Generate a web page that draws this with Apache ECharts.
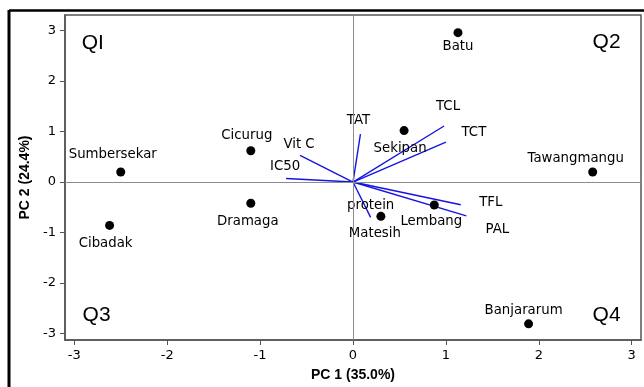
<!DOCTYPE html>
<html>
<head>
<meta charset="utf-8">
<script src="https://cdn.jsdelivr.net/npm/echarts@6/dist/echarts.min.js"></script>
<style>
  html, body { margin: 0; padding: 0; background: #fff; }
  #chart { width: 644px; height: 387px; }
</style>
</head>
<body>
<div id="chart"></div>
<script>
// PCA biplot: site scores (PC1, PC2) and variable loading vectors

// Site scores
const siteNames = ['Batu', 'Sekipan', 'Tawangmangu', 'Cicurug', 'Sumbersekar',
                   'Cibadak', 'Dramaga', 'Matesih', 'Lembang', 'Banjararum'];
const sitePC1 = [1.13, 0.55, 2.58, -1.10, -2.50, -2.62, -1.10, 0.30, 0.875, 1.89];
const sitePC2 = [2.96, 1.02, 0.20, 0.62, 0.20, -0.86, -0.42, -0.68, -0.455, -2.81];

// Variable loadings (vector end points)
const varNames = ['TAT', 'Vit C', 'IC50', 'TCL', 'TCT', 'TFL', 'PAL', 'protein'];
const varPC1 = [0.08, -0.57, -0.72, 0.98, 1.00, 1.16, 1.22, 0.19];
const varPC2 = [0.95, 0.53, 0.07, 1.11, 0.79, -0.45, -0.67, -0.70];

// Axis ticks
const xTicks = [-3, -2, -1, 0, 1, 2, 3];
const yTicks = [-3, -2, -1, 0, 1, 2, 3];

// Quadrant captions
const quadNames = ['QI', 'Q2', 'Q3', 'Q4'];
const quadPC1 = [-2.80, 2.73, -2.76, 2.73];
const quadPC2 = [2.75, 2.77, -2.64, -2.64];

// Label placement (pixel offsets from the mark)
const siteLabelOffsets = [[0, 14], [-4, 18], [-17, -13], [-4, -15], [-8, -17],
                          [-4, 18], [-3, 18], [-6, 17], [-3, 17], [-5, -13]];
const varLabelOffsets = [[-2, -14], [-1, -11], [-1, -12], [4, -19], [28, -10],
                         [30, -2], [31, 14], [0, -12]];

const TEXT_FONT = '"DejaVu Sans", Verdana, sans-serif';
const TITLE_FONT = '"Liberation Sans", Arial, sans-serif';

const chart = echarts.init(document.getElementById('chart'), null, { renderer: 'canvas' });

const vectorSeries = varNames.map((name, i) => ({
  type: 'line',
  name: name,
  data: [[0, 0], [varPC1[i], varPC2[i]]],
  symbol: 'none',
  silent: true,
  z: 3,
  lineStyle: { color: '#1414e6', width: 1.4 }
}));

const textLabel = {
  show: true, position: 'inside', formatter: '{b}',
  fontFamily: TEXT_FONT, fontSize: 13.3, color: '#000', opacity: 1,
  align: 'center', verticalAlign: 'middle'
};

const option = {
  animation: false,
  backgroundColor: '#ffffff',
  grid: {
    left: 65, right: 3, top: 15, bottom: 43.5,
    show: true, borderColor: '#555', borderWidth: 1.5
  },
  xAxis: {
    type: 'value',
    min: -3.1, max: 3.1,
    name: 'PC 1 (35.0%)',
    nameLocation: 'middle',
    nameGap: 28,
    nameTextStyle: { fontFamily: TITLE_FONT, fontWeight: 'bold', fontSize: 14, color: '#000' },
    axisLine: { show: true, onZero: false, lineStyle: { color: '#555', width: 1.5 } },
    axisTick: { show: true, length: 5, customValues: xTicks, lineStyle: { color: '#555', width: 1 } },
    axisLabel: { customValues: xTicks, margin: 9, fontFamily: TEXT_FONT, fontSize: 13, color: '#000' },
    splitLine: { show: false }
  },
  yAxis: {
    type: 'value',
    min: -3.13, max: 3.31,
    name: 'PC 2 (24.4%)',
    nameLocation: 'middle',
    nameGap: 33,
    nameRotate: 90,
    nameTextStyle: { fontFamily: TITLE_FONT, fontWeight: 'bold', fontSize: 14, color: '#000' },
    axisLine: { show: true, onZero: false, lineStyle: { color: '#555', width: 1.5 } },
    axisTick: { show: true, length: 5, customValues: yTicks, lineStyle: { color: '#555', width: 1 } },
    axisLabel: { customValues: yTicks, margin: 9, fontFamily: TEXT_FONT, fontSize: 13, color: '#000' },
    splitLine: { show: false }
  },
  graphic: [
    // outer frame: top and left rules
    { type: 'line', shape: { x1: 9, y1: 10.5, x2: 644, y2: 10.5 }, style: { stroke: '#000', lineWidth: 2.5 }, silent: true },
    { type: 'line', shape: { x1: 9, y1: 10, x2: 9, y2: 387 }, style: { stroke: '#000', lineWidth: 3 }, silent: true }
  ],
  series: [
    {
      // reference lines through the origin
      type: 'scatter',
      data: [],
      silent: true,
      z: 1,
      markLine: {
        silent: true,
        symbol: 'none',
        label: { show: false },
        lineStyle: { color: '#8c8c8c', width: 1, type: 'solid' },
        data: [{ xAxis: 0 }, { yAxis: 0 }]
      }
    },
    ...vectorSeries,
    {
      // loading vector captions
      type: 'scatter',
      symbolSize: 0,
      silent: true,
      z: 4,
      itemStyle: { opacity: 1 },
      data: varNames.map((name, i) => ({
        value: [varPC1[i], varPC2[i]],
        name: name,
        label: { offset: varLabelOffsets[i] }
      })),
      label: textLabel
    },
    {
      // site scores
      type: 'scatter',
      symbol: 'circle',
      symbolSize: 9,
      silent: true,
      z: 5,
      itemStyle: { color: '#000', opacity: 1 },
      data: siteNames.map((name, i) => ({
        value: [sitePC1[i], sitePC2[i]],
        name: name,
        label: { offset: siteLabelOffsets[i] }
      })),
      label: textLabel
    },
    {
      // quadrant captions
      type: 'scatter',
      symbolSize: 0,
      silent: true,
      z: 4,
      itemStyle: { opacity: 1 },
      data: quadNames.map((name, i) => ({ value: [quadPC1[i], quadPC2[i]], name: name })),
      label: {
        show: true, position: 'inside', formatter: '{b}',
        fontFamily: TITLE_FONT, fontSize: 21, color: '#000',
        align: 'center', verticalAlign: 'middle'
      }
    }
  ]
};

chart.setOption(option);
</script>
</body>
</html>
